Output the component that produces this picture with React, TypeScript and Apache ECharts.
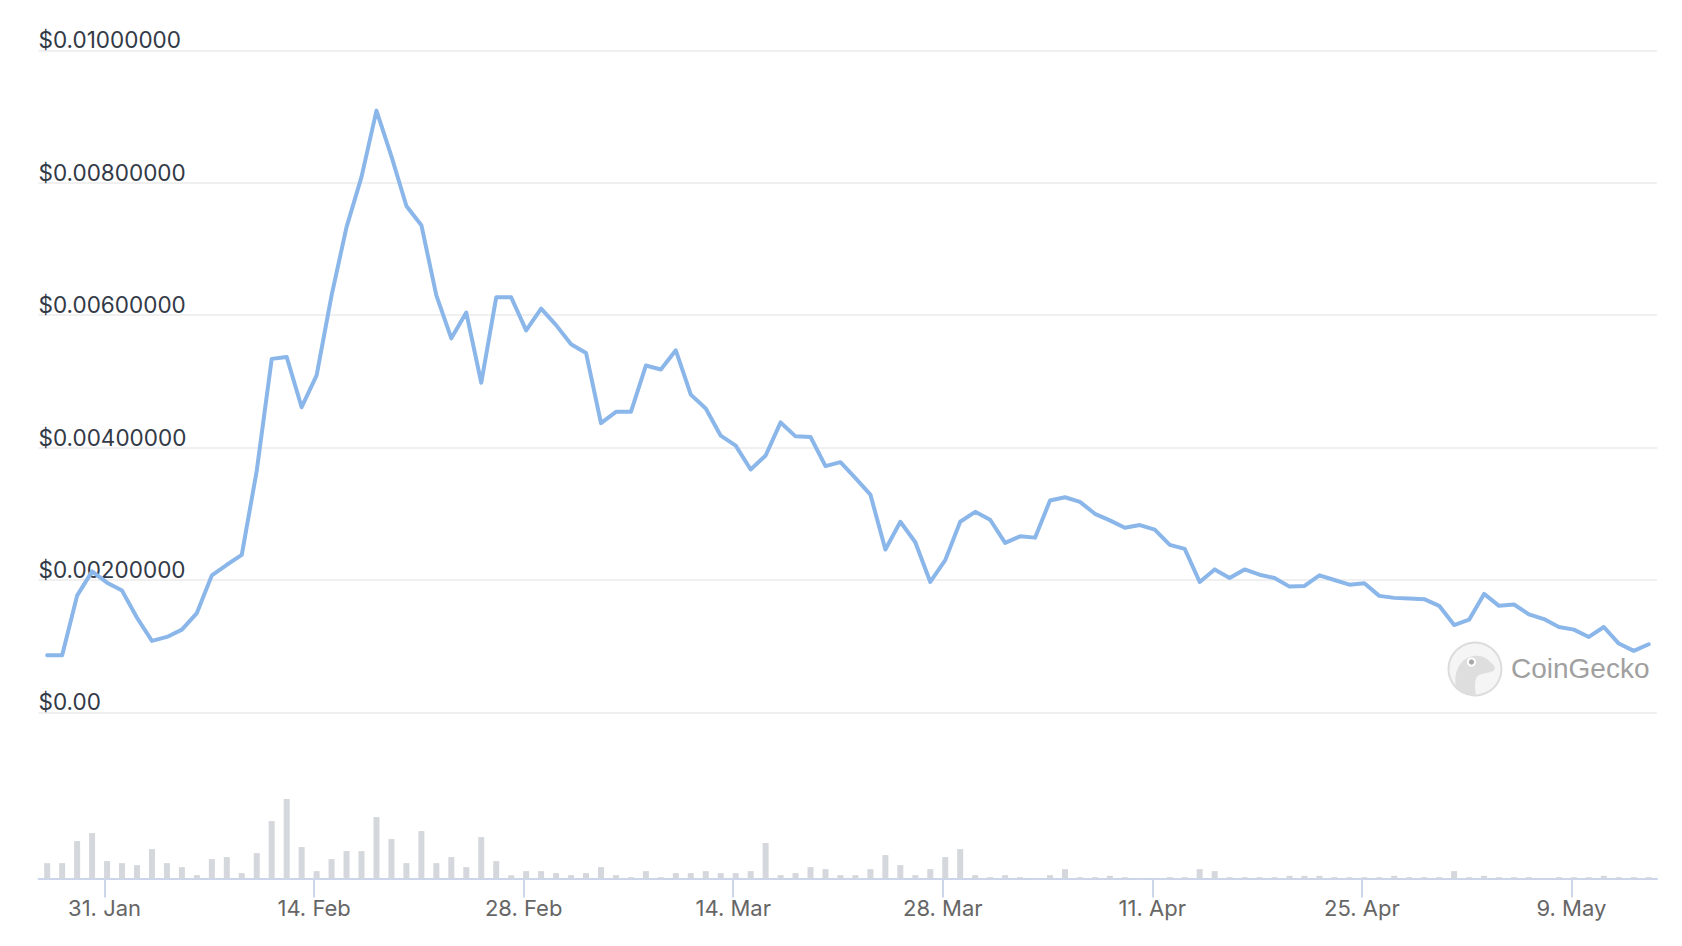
import React, { useEffect, useRef } from "react";
import * as echarts from "echarts";

// ---- Data ----
const startDate = "2022-01-27"; // first daily point
const sampleHourUTC = 4; // daily samples are taken a few hours after midnight
const prices: number[] = [
  0.000864, 0.000864, 0.001764, 0.00213, 0.00196, 0.00184, 0.00143, 0.00108, 0.00114, 0.00125,
  0.0015, 0.00207, 0.00223, 0.00238, 0.00365, 0.00534, 0.00537, 0.00461, 0.00509, 0.0063,
  0.00733, 0.00809, 0.00909, 0.0084, 0.00765, 0.00736, 0.0063, 0.00565, 0.00604, 0.00498,
  0.00627, 0.00627, 0.00577, 0.0061, 0.00585, 0.00556, 0.00543, 0.00437, 0.00454, 0.00454,
  0.00524, 0.00518, 0.00547, 0.0048, 0.00459, 0.00418, 0.00403, 0.00367, 0.00388, 0.00438,
  0.00417, 0.00416, 0.00372, 0.00378, 0.00354, 0.00329, 0.00246, 0.00288, 0.00257, 0.00197,
  0.0023, 0.00288, 0.00303, 0.00291, 0.00256, 0.00266, 0.00264, 0.0032, 0.00325, 0.00318,
  0.003, 0.0029, 0.00279, 0.00283, 0.00276, 0.00253, 0.00247, 0.00197, 0.00216, 0.00203,
  0.00216, 0.00208, 0.00203, 0.0019, 0.00191, 0.00207, 0.002, 0.00193, 0.00195, 0.00176,
  0.00173, 0.00172, 0.00171, 0.00161, 0.00132, 0.0014, 0.00179, 0.00161, 0.00163, 0.00148,
  0.00141, 0.00129, 0.00125, 0.00114, 0.00129, 0.00104, 0.00093, 0.00103,
];
const volumes: number[] = [
  46, 46, 112, 136, 52, 46, 40, 88, 46, 34,
  10, 58, 64, 16, 76, 172, 238, 94, 22, 58,
  82, 82, 184, 118, 46, 142, 46, 64, 34, 124,
  52, 10, 22, 22, 16, 10, 16, 34, 10, 4,
  22, 4, 16, 16, 22, 16, 16, 22, 106, 10,
  16, 34, 28, 10, 10, 28, 70, 40, 10, 28,
  64, 88, 10, 4, 10, 4, 1, 10, 28, 4,
  4, 8, 4, 1, 1, 4, 4, 28, 22, 4,
  4, 4, 4, 8, 8, 8, 4, 4, 4, 4,
  8, 4, 4, 4, 22, 4, 8, 4, 4, 4,
  1, 4, 4, 4, 8, 4, 4, 4,
];
const xTickDates: string[] = [
  "2022-01-31", "2022-02-14", "2022-02-28", "2022-03-14",
  "2022-03-28", "2022-04-11", "2022-04-25", "2022-05-09",
];
const xTickLabels: string[] = [
  "31. Jan", "14. Feb", "28. Feb", "14. Mar", "28. Mar", "11. Apr", "25. Apr", "9. May",
];
const yTickValues: number[] = [0, 0.002, 0.004, 0.006, 0.008, 0.01];
const yTickLabels: string[] = [
  "$0.00", "$0.00200000", "$0.00400000", "$0.00600000", "$0.00800000", "$0.01000000",
];

const DAY = 86400000;
const HOUR = 3600000;
const t0 = Date.parse(startDate + "T00:00:00Z");
const dates = prices.map((_, i) => t0 + i * DAY + sampleHourUTC * HOUR);
const priceData = prices.map((p, i) => [dates[i], p]);
const volData = volumes.map((v, i) => [dates[i], v]);
const xTicks = xTickDates.map((d) => Date.parse(d + "T00:00:00Z"));

const xMin = t0 - 0.414 * DAY;
const xMax = t0 + 107.72 * DAY;

const GECKO_D =
  "M 8 46 C 5 30 12 16 26 14 C 34 13 40 17 43 21 C 47 23 48 27 45 29 C 41 31 35 31 31 33 C 27 35 26 42 28 53 C 20 53 13 50 8 46 Z";
echarts.graphic.registerShape("gecko", echarts.graphic.extendPath(GECKO_D, {}));

const FONT = "Inter, 'Noto Sans', sans-serif";

export default function App() {
  const ref = useRef<HTMLDivElement>(null);
  useEffect(() => {
    if (!ref.current) return;
    const chart = echarts.init(ref.current, undefined, { renderer: "svg" });
    const lx = 1475 - 27;
    const ly = 669 - 27;
    chart.setOption({
      animation: false,
      backgroundColor: "#ffffff",
      grid: [
        { left: 38.5, right: 25, top: 50.4, height: 662 },
        { left: 38.5, right: 25, top: 799, height: 79.5 },
      ],
      xAxis: [
        {
          type: "value",
          gridIndex: 0,
          min: xMin,
          max: xMax,
          show: false,
          splitLine: { show: false },
        },
        {
          type: "value",
          gridIndex: 1,
          min: xMin,
          max: xMax,
          axisLine: { show: true, lineStyle: { color: "#ccd6eb", width: 2 } },
          axisTick: {
            show: true,
            length: 19,
            customValues: xTicks,
            lineStyle: { color: "#ccd6eb", width: 2 },
          },
          axisLabel: {
            customValues: xTicks,
            margin: 18,
            color: "#666666",
            fontSize: 22,
            fontFamily: FONT,
            formatter: (v: number) => {
              const i = xTicks.findIndex((t) => Math.abs(t - v) < DAY / 2);
              return i >= 0 ? xTickLabels[i] : "";
            },
          },
          splitLine: { show: false },
        },
      ],
      yAxis: [
        {
          type: "value",
          gridIndex: 0,
          min: 0,
          max: 0.01,
          interval: 0.002,
          axisLine: { show: false },
          axisTick: { show: false },
          splitLine: { show: true, lineStyle: { color: "#f0f0f0", width: 2 } },
          axisLabel: {
            inside: true,
            margin: 0,
            align: "left",
            verticalAlign: "bottom",
            lineHeight: 21,
            padding: [0, 0, 0, 0],
            color: "#333a47",
            fontSize: 22.5,
            fontFamily: FONT,
            formatter: (v: number) => {
              const i = yTickValues.findIndex((t) => Math.abs(t - v) < 1e-9);
              return i >= 0 ? yTickLabels[i] : "";
            },
          },
        },
        {
          type: "value",
          gridIndex: 1,
          min: 0,
          max: 238,
          show: false,
          splitLine: { show: false },
        },
      ],
      series: [
        {
          type: "bar",
          xAxisIndex: 1,
          yAxisIndex: 1,
          data: volData,
          barWidth: 6,
          itemStyle: { color: "#d4d7db" },
          silent: true,
        },
        {
          type: "line",
          xAxisIndex: 0,
          yAxisIndex: 0,
          data: priceData,
          showSymbol: false,
          symbol: "none",
          lineStyle: { color: "#8ab6e9", width: 4, join: "round", cap: "round" },
          z: 5,
          silent: true,
        },
      ],
      graphic: {
        elements: [
          {
            type: "group",
            z: 1,
            silent: true,
            children: [
              {
                type: "circle",
                shape: { cx: 1475, cy: 669, r: 26.5 },
                style: { fill: "#f5f5f5", stroke: "#dcdcdc", lineWidth: 2 },
              },
              {
                type: "gecko",
                x: lx,
                y: ly,
                style: { fill: "#dedede", stroke: "none" },
              },
              {
                type: "circle",
                shape: { cx: lx + 23.5, cy: ly + 20, r: 4.6 },
                style: { fill: "#ffffff" },
              },
              {
                type: "circle",
                shape: { cx: lx + 23.5, cy: ly + 20, r: 2.6 },
                style: { fill: "#a8a8a8" },
              },
              {
                type: "text",
                x: 1511,
                y: 668,
                style: {
                  text: "CoinGecko",
                  fill: "#a0a0a0",
                  font: "28px 'Liberation Sans', Arial, sans-serif",
                  align: "left",
                  verticalAlign: "middle",
                },
              },
            ],
          },
        ],
      },
    });
    return () => chart.dispose();
  }, []);
  return (
    <div
      ref={ref}
      style={{ position: "fixed", left: 0, top: 0, width: 1682, height: 946, background: "#fff" }}
    />
  );
}
